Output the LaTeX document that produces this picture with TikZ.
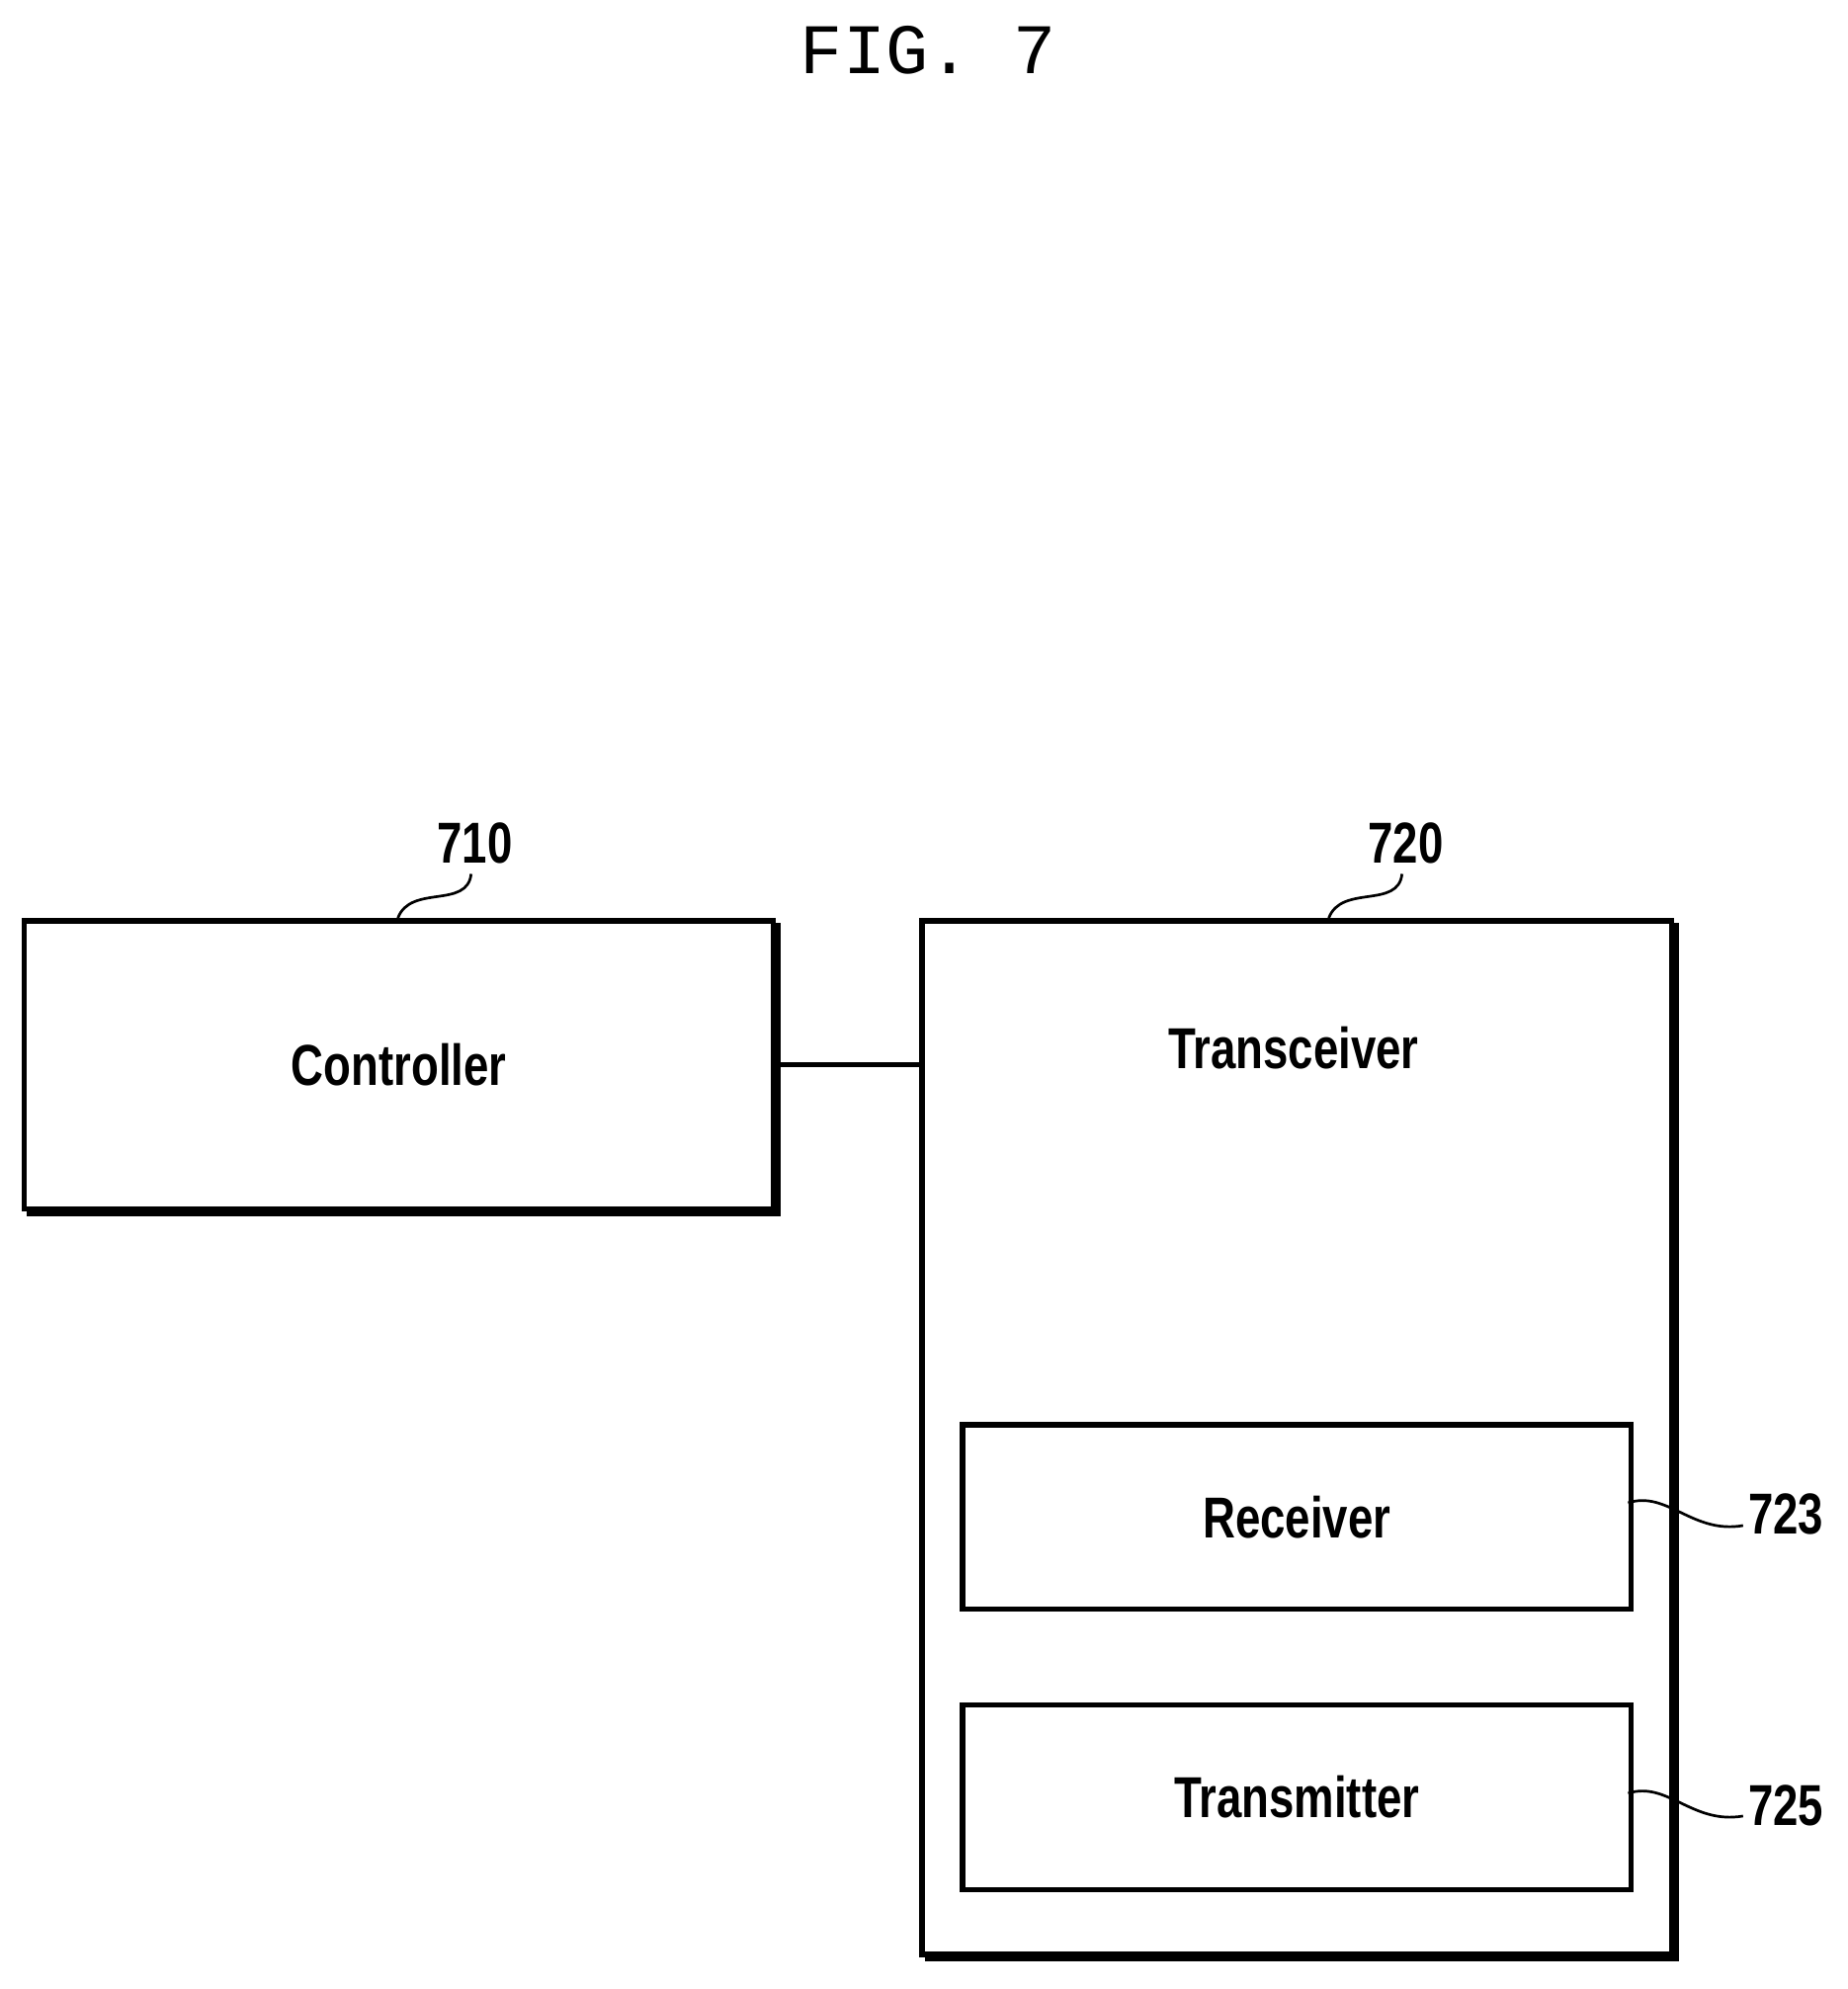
\documentclass[tikz,border=0pt]{standalone}
\usepackage{fontspec}
\setmainfont{Liberation Sans}[FakeStretch=0.78]
\newfontfamily\monof{Liberation Mono}
\begin{document}
\begin{tikzpicture}[x=0.01cm,y=-0.01cm,
  lbl/.style={font=\fontsize{13}{13}\selectfont\bfseries},
  box/.style={draw,line width=1.2pt},
  sq/.style={line width=0.6pt}]
\useasboundingbox (0,0) rectangle (1463,1575);
\node[font=\monof\fontsize{16}{16}\selectfont] (title) at (735,40) {FIG. 7};
% shadows
\draw[line width=2.5pt] (614,731) -- (614,959) -- (21,959);
\draw[line width=2.5pt] (1325,731) -- (1325,1549) -- (732,1549);
\node[box,fill=white,minimum width=5.93cm,minimum height=2.28cm,anchor=north west,inner sep=0] (ctrl) at (17,727) {};
\node[lbl] at (ctrl.center) {Controller};
\node[box,fill=white,minimum width=5.93cm,minimum height=8.18cm,anchor=north west,inner sep=0] (trx) at (728,727) {};
\node[lbl] (trxt) at (1024,830) {Transceiver};
\node[box,minimum width=5.29cm,minimum height=1.46cm,anchor=north west,inner sep=0] (rx) at (760,1126) {};
\node[lbl] at (rx.center) {Receiver};
\node[box,minimum width=5.29cm,minimum height=1.46cm,anchor=north west,inner sep=0] (tx) at (760,1348) {};
\node[lbl] at (tx.center) {Transmitter};
\draw[line width=1.2pt] (ctrl.east) -- (trx.west |- ctrl.east);
% reference numerals
\node[lbl] (n710) at (376,668) {710};
\node[lbl] (n720) at (1113,668) {720};
\node[lbl] (n723) at (1414,1199) {723};
\node[lbl] (n725) at (1414,1430) {725};
\coordinate (a710) at (315,727);
\coordinate (a720) at (1052,727);
\coordinate (a723) at (1289,1190);
\coordinate (a725) at (1289,1420);
\draw[sq] (a710) .. controls (325,700) and (370,720) .. (373,692);
\draw[sq] (a720) .. controls (1062,700) and (1107,720) .. (1110,692);
\draw[sq] (a723) .. controls (1320,1180) and (1340,1215) .. (1380,1208);
\draw[sq] (a725) .. controls (1320,1410) and (1340,1445) .. (1380,1438);
\end{tikzpicture}
\end{document}
